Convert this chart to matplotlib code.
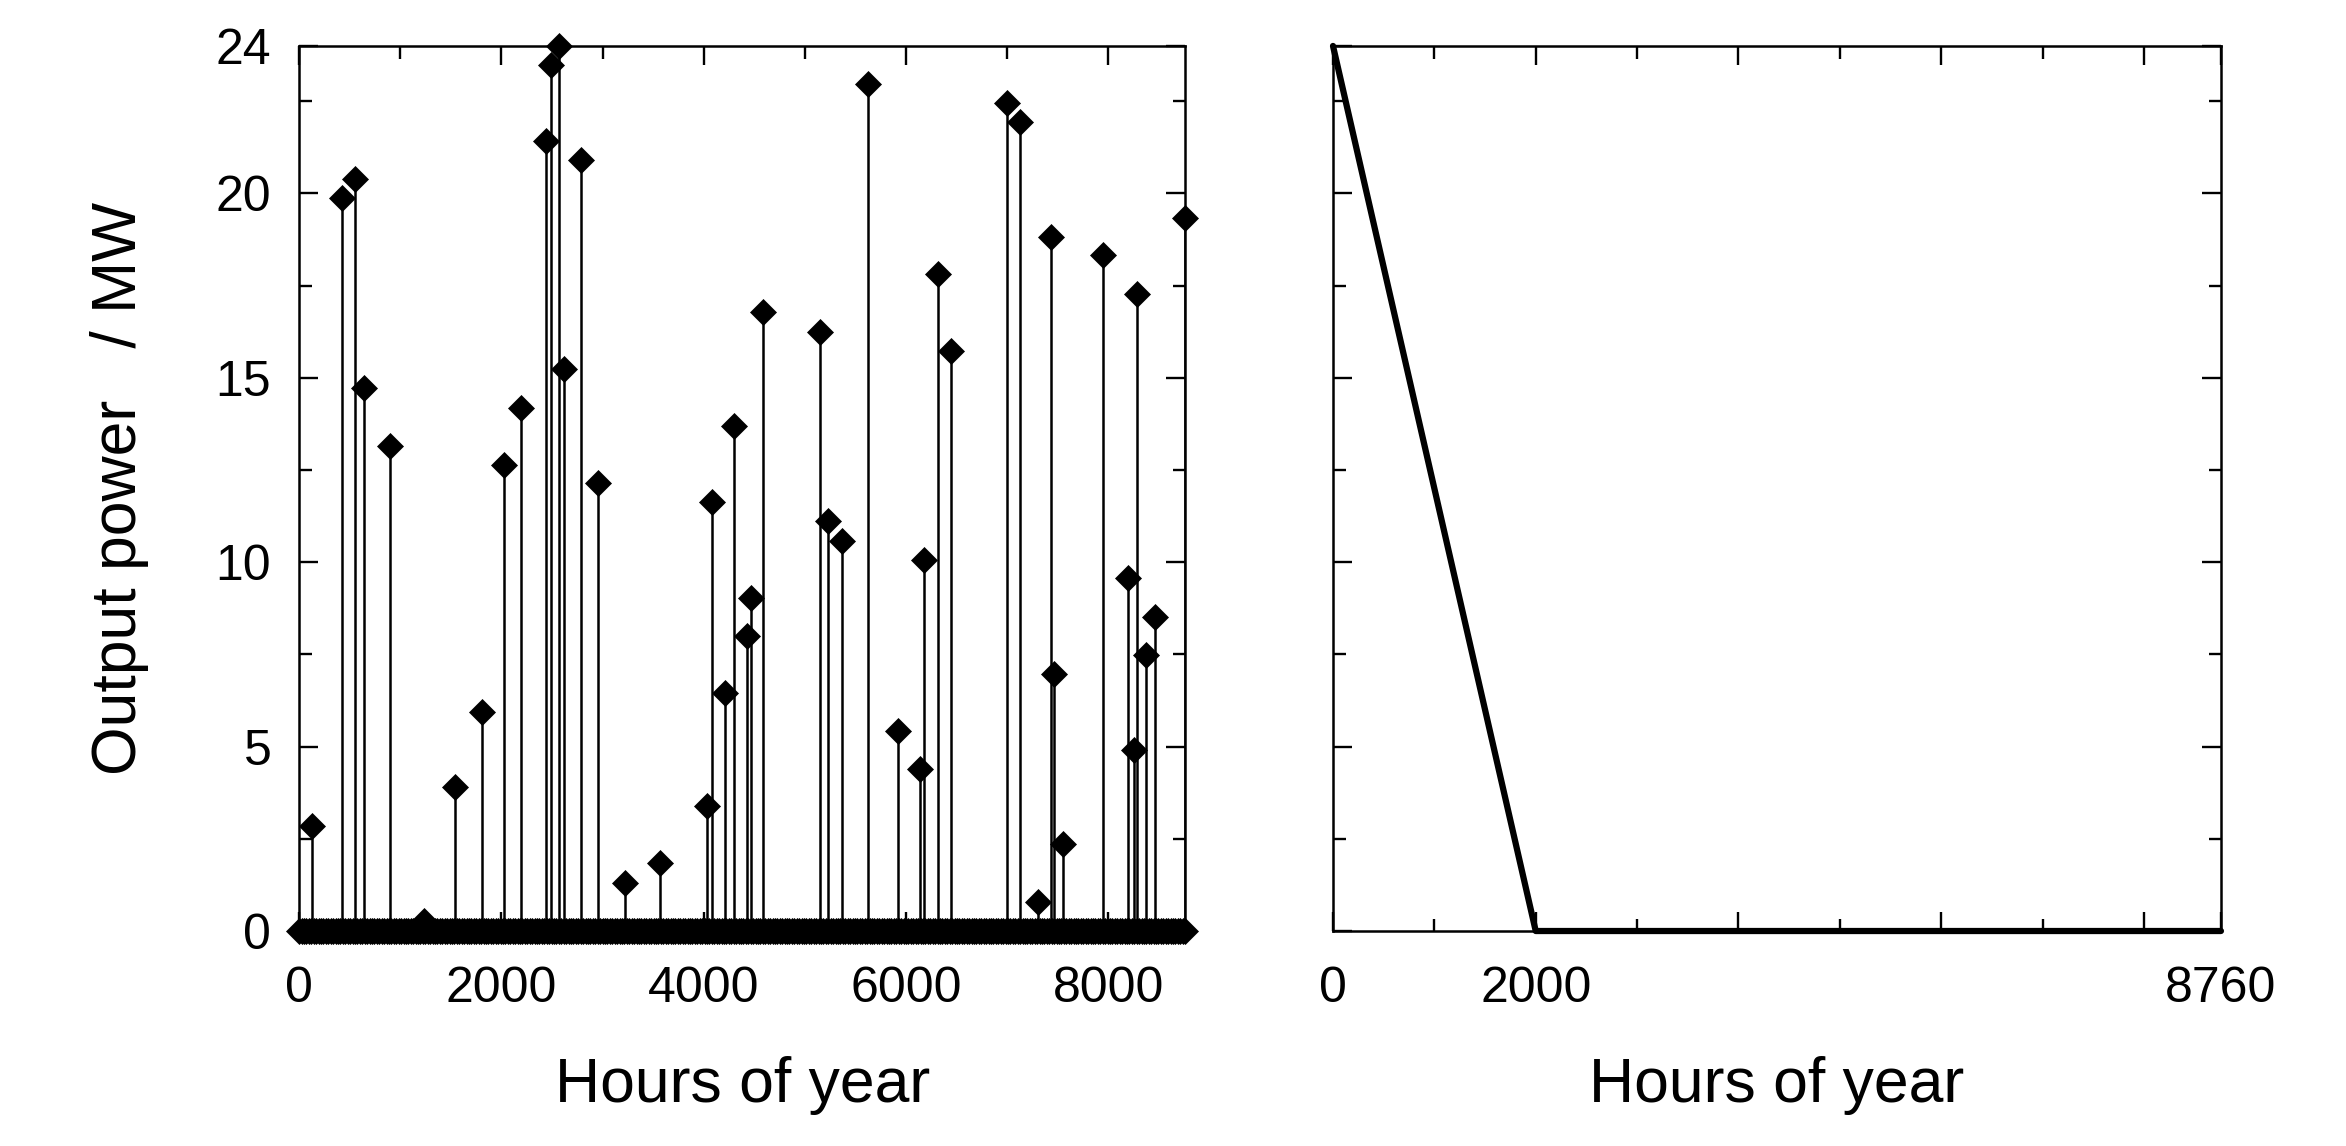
import numpy as np
import matplotlib
matplotlib.use('Agg')
import matplotlib.pyplot as plt

plt.rcParams['font.family'] = ['Liberation Sans', 'DejaVu Sans']

# ---------------- data ----------------
year_hours = 8760
sample_step_h = 24          # daily samples, most of them at 0 MW

# non-zero samples of the left panel (hour of year, MW)
peak_hours = [125, 426, 555, 641, 899, 1239, 1544, 1806, 2021, 2189, 2443, 2491,
              2573, 2615, 2791, 2959, 3221, 3565, 4034, 4078, 4206, 4296, 4425,
              4464, 4589, 5148, 5226, 5364, 5626, 5925, 6140, 6182, 6318, 6443,
              7000, 7129, 7300, 7432, 7465, 7551, 7946, 8199, 8249, 8285, 8371,
              8457, 8760]
peak_values = [2.85, 19.87, 20.39, 14.72, 13.16, 0.28, 3.90, 5.95, 12.65, 14.19,
               21.42, 23.47, 24.0, 15.23, 20.91, 12.14, 1.29, 1.84, 3.39, 11.62,
               6.46, 13.69, 8.0, 9.04, 16.79, 16.25, 11.12, 10.58, 22.96, 5.43,
               4.38, 10.06, 17.81, 15.74, 22.45, 21.93, 0.8, 18.83, 6.97, 2.35,
               18.33, 9.56, 4.91, 17.27, 7.48, 8.52, 19.34]

# right panel: duration curve
duration_hours = [0, 2000, 8760]
duration_power = [24, 0, 0]

left_xticks = [0, 2000, 4000, 6000, 8000]
left_xminor = [1000, 3000, 5000, 7000]
yticks = [0, 5, 10, 15, 20, 24]
yminor = [2.5, 7.5, 12.5, 17.5, 22.5]
right_xticks = [0, 2000, 4000, 6000, 8000, 8760]
right_xlabels = ['0', '2000', '', '', '', '8760']

# ---------------- figure ----------------
fig = plt.figure(figsize=(23.46, 11.46), dpi=100)
ax1 = fig.add_axes([0.1275, 0.1876, 0.3777, 0.7723])
ax2 = fig.add_axes([0.5682, 0.1876, 0.3785, 0.7723])

zero_hours = np.arange(0, year_hours + 1, sample_step_h)
zero_values = np.zeros(len(zero_hours))

ax1.vlines(peak_hours, 0, peak_values, colors='k', lw=1.8, zorder=2)
ax1.plot(zero_hours, zero_values, ls='none', marker='D', ms=13, mew=0.5,
         color='k', clip_on=False, zorder=3)
ax1.plot(peak_hours, peak_values, ls='none', marker='D', ms=13, mew=0.5,
         color='k', clip_on=False, zorder=3)

ax2.plot(duration_hours, duration_power, color='k', lw=4.5,
         solid_capstyle='round', solid_joinstyle='round', clip_on=False, zorder=3)

for ax in (ax1, ax2):
    ax.set_xlim(0, year_hours)
    ax.set_ylim(0, 24)
    ax.set_yticks(yticks)
    ax.set_yticks(yminor, minor=True)
    ax.tick_params(which='both', direction='in', top=True, right=True,
                   width=1.7, labelsize=36, color='k')
    ax.tick_params(axis='x', which='both', pad=25)
    ax.tick_params(axis='y', which='both', pad=20)
    ax.tick_params(which='major', length=13.5)
    ax.tick_params(which='minor', length=9)
    for s in ax.spines.values():
        s.set_linewidth(1.8)
    ax.set_xlabel('Hours of year', fontsize=45, labelpad=32)

ax1.set_xticks(left_xticks)
ax1.set_xticks(left_xminor, minor=True)
ax1.set_yticklabels([str(v) for v in yticks])
ax1.set_ylabel('Output power   / MW', fontsize=45, labelpad=48)

ax2.set_xticks(right_xticks)
ax2.set_xticklabels(right_xlabels)
ax2.set_xticks(left_xminor, minor=True)
ax2.set_yticklabels([])

fig.savefig('out.png', dpi=100)
